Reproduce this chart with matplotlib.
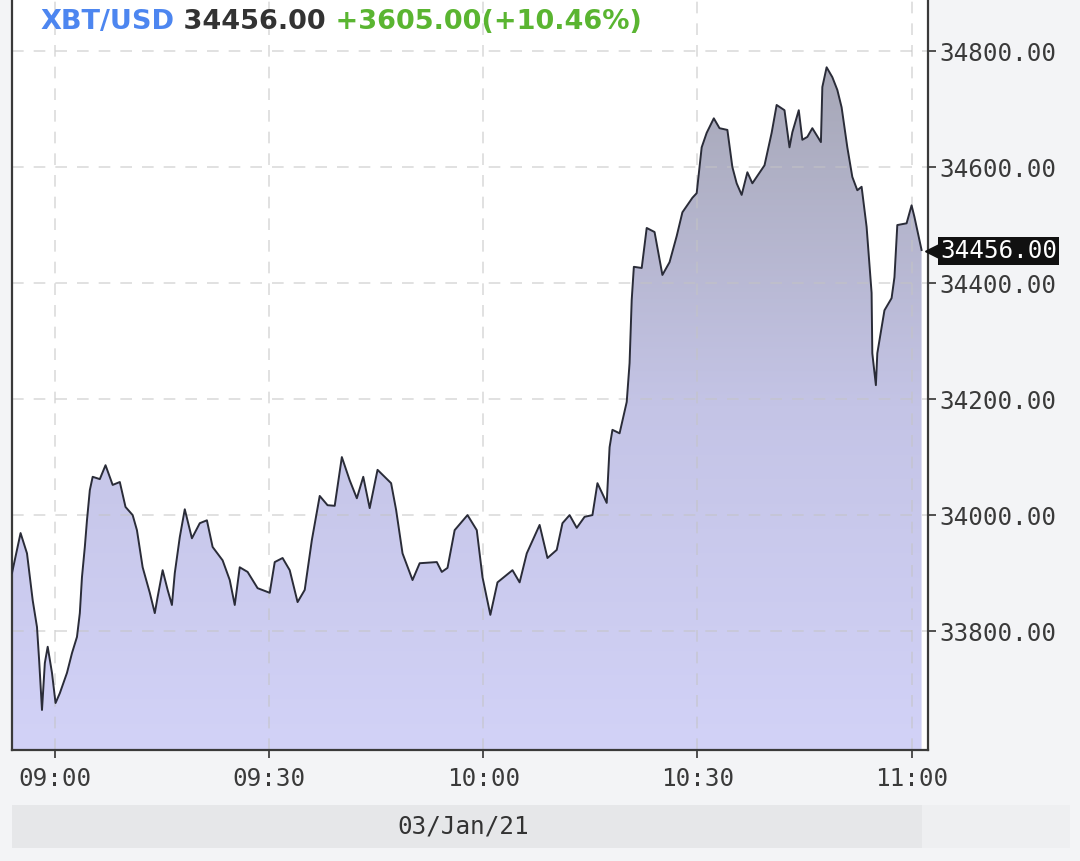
import numpy as np
import matplotlib
matplotlib.use("Agg")
import matplotlib.pyplot as plt
from matplotlib.patches import PathPatch, Rectangle
from matplotlib.colors import LinearSegmentedColormap
import matplotlib.transforms as mtrans

# minutes after 09:00 and XBT/USD price
minutes = [-6.0, -4.8, -3.9, -3.1, -2.5, -2.2, -1.8, -1.4, -1.0, -0.4, 0.1, 0.7, 1.7, 2.4,
           3.1, 3.5, 3.8, 4.2, 4.5, 4.9, 5.3, 6.3, 7.1, 8.1, 9.1, 9.9, 10.9, 11.5, 12.3,
           13.3, 14.0, 14.4, 15.1, 15.8, 16.4, 16.8, 17.5, 18.2, 19.2, 20.3, 21.3, 22.1,
           23.5, 24.5, 25.2, 25.9, 27.0, 28.4, 30.1, 30.8, 31.9, 32.9, 34.0, 35.0, 36.0,
           37.1, 38.2, 39.2, 40.2, 41.3, 42.3, 43.2, 44.1, 45.2, 47.1, 47.8, 48.7, 50.1,
           51.1, 53.5, 54.2, 55.0, 56.0, 57.8, 59.1, 59.9, 61.0, 62.0, 64.1, 65.1, 66.1,
           67.9, 69.0, 70.3, 71.1, 72.1, 73.1, 74.2, 75.3, 76.0, 77.3, 77.7, 78.1, 79.1,
           80.1, 80.5, 80.8, 81.1, 82.2, 82.9, 84.0, 85.1, 86.1, 87.1, 87.9, 89.3, 89.9,
           90.6, 91.3, 92.3, 93.1, 94.2, 94.9, 95.5, 96.2, 97.0, 97.7, 99.4, 100.4, 101.1,
           102.2, 102.9, 103.3, 104.2, 104.7, 105.4, 106.1, 107.3, 107.5, 108.1, 108.9,
           109.6, 110.2, 111.0, 111.7, 112.4, 113.0, 113.7, 114.0, 114.4, 114.5, 115.0,
           115.2, 115.8, 116.2, 117.2, 117.6, 118.0, 119.3, 120.0, 120.4, 121.4]
prices = [33900, 33969, 33934, 33853, 33807, 33750, 33664, 33745, 33773, 33728, 33676,
          33693, 33728, 33762, 33790, 33831, 33893, 33945, 33991, 34043, 34066, 34062,
          34086, 34052, 34057, 34014, 34000, 33974, 33910, 33866, 33831, 33859, 33905,
          33871, 33845, 33900, 33962, 34010, 33960, 33986, 33991, 33945, 33922, 33888,
          33845, 33910, 33902, 33874, 33866, 33919, 33926, 33905, 33850, 33871, 33957,
          34033, 34017, 34016, 34100, 34060, 34029, 34066, 34012, 34078, 34055, 34009,
          33934, 33888, 33917, 33919, 33902, 33909, 33974, 34000, 33974, 33893, 33828,
          33884, 33905, 33884, 33934, 33983, 33926, 33940, 33986, 34000, 33978, 33997,
          34000, 34055, 34021, 34117, 34147, 34141, 34195, 34262, 34371, 34428, 34426,
          34495, 34488, 34414, 34436, 34481, 34522, 34547, 34555, 34634, 34659, 34684,
          34667, 34664, 34600, 34572, 34552, 34591, 34572, 34603, 34659, 34707, 34698,
          34634, 34660, 34698, 34647, 34652, 34667, 34643, 34738, 34772, 34755, 34733,
          34703, 34634, 34583, 34560, 34566, 34497, 34448, 34383, 34279, 34224, 34279,
          34324, 34353, 34374, 34410, 34500, 34503, 34534, 34514, 34457]

symbol = "XBT/USD"
last_price = 34456.00
change = 3605.00
change_pct = 10.46
date_label = "03/Jan/21"

xtick_pos = [0, 30, 60, 90, 120]
xtick_labels = ["09:00", "09:30", "10:00", "10:30", "11:00"]
ytick_pos = [33800, 34000, 34200, 34400, 34600, 34800]

xmin, xmax = -6.0, 122.3
ymin, ymax = 33595, 34888

bg = "#f3f4f6"
mono = "DejaVu Sans Mono"

fig = plt.figure(figsize=(10.8, 8.61), dpi=100, facecolor=bg)
ax = fig.add_axes([12/1080, 111/861, 916/1080, 750/861])
ax.set_facecolor("white")
ax.set_xlim(xmin, xmax)
ax.set_ylim(ymin, ymax)

# gradient fill under the line
poly = ax.fill_between(minutes, prices, ymin, facecolor="none", edgecolor="none")
clip = PathPatch(poly.get_paths()[0], transform=ax.transData, fc="none", ec="none")
ax.add_patch(clip)
cmap = LinearSegmentedColormap.from_list("fill", ["#d2d2f7", "#c4c4e6", "#a6a7b6"])
grad = np.linspace(0, 1, 256).reshape(-1, 1)
im = ax.imshow(grad, extent=[xmin, xmax, ymin, 34780], origin="lower", aspect="auto",
               cmap=cmap, zorder=1)
im.set_clip_path(clip)

ax.plot(minutes, prices, color="#2a2c38", lw=1.4, zorder=3)

# grid
for yv in ytick_pos:
    ax.axhline(yv, color="#c4c4c4", lw=1.2, ls=(0, (7, 6)), alpha=0.6, zorder=2)
for xv in xtick_pos:
    ax.axvline(xv, color="#c4c4c4", lw=1.2, ls=(0, (7, 6)), alpha=0.6, zorder=2)

# axes / ticks
ax.yaxis.tick_right()
ax.set_yticks(ytick_pos)
ax.set_yticklabels(["%.2f" % v for v in ytick_pos])
ax.set_xticks(xtick_pos)
ax.set_xticklabels(xtick_labels)
ax.tick_params(axis="y", direction="out", length=6, width=1.2, color="#333333",
               labelsize=17.5, labelcolor="#3a3a3a", pad=2)
ax.tick_params(axis="x", direction="out", length=6, width=1.2, color="#333333",
               labelsize=17.5, labelcolor="#3a3a3a", pad=6)
for lab in ax.get_xticklabels() + ax.get_yticklabels():
    lab.set_family(mono)
ax.spines["top"].set_visible(False)
for s in ["left", "right", "bottom"]:
    ax.spines[s].set_color("#3a3a3a")
    ax.spines[s].set_linewidth(1.6)

# current price tag
tr = mtrans.blended_transform_factory(ax.transAxes, ax.transData)
ax.text(1.013, last_price, "%.2f" % last_price, transform=tr, family=mono, fontsize=17.5,
        color="white", va="center", ha="left", zorder=10, clip_on=False,
        bbox=dict(boxstyle="square,pad=0.08", fc="#111111", ec="none"))
ax.plot([1.006], [last_price], marker="<", ms=12, color="#111111", transform=tr,
        clip_on=False, zorder=10)

# header
t1 = ax.text(28/916, 1 - 22/750, symbol, transform=ax.transAxes, fontsize=19.5,
             fontweight="bold", color="#4d86f0", va="center", ha="left")
t2 = ax.annotate(" %.2f" % last_price, xy=(1, 0), xycoords=t1, fontsize=19.5,
                 fontweight="bold", color="#333333", va="bottom", ha="left")
t3 = ax.annotate(" +%.2f(+%.2f%%)" % (change, change_pct), xy=(1, 0), xycoords=t2,
                 fontsize=19.5, fontweight="bold", color="#5ab531", va="bottom", ha="left")

# date band
fig.patches.append(Rectangle((12/1080, 13/861), 910/1080, 43/861, transform=fig.transFigure,
                             fc="#e6e7e9", ec="none"))
fig.patches.append(Rectangle((922/1080, 13/861), 148/1080, 43/861, transform=fig.transFigure,
                             fc="#eeeff1", ec="none"))
fig.text(463/1080, 35/861, date_label, family=mono, fontsize=17.5, color="#333333",
         ha="center", va="center")

fig.savefig("out.png", dpi=100, facecolor=bg)
